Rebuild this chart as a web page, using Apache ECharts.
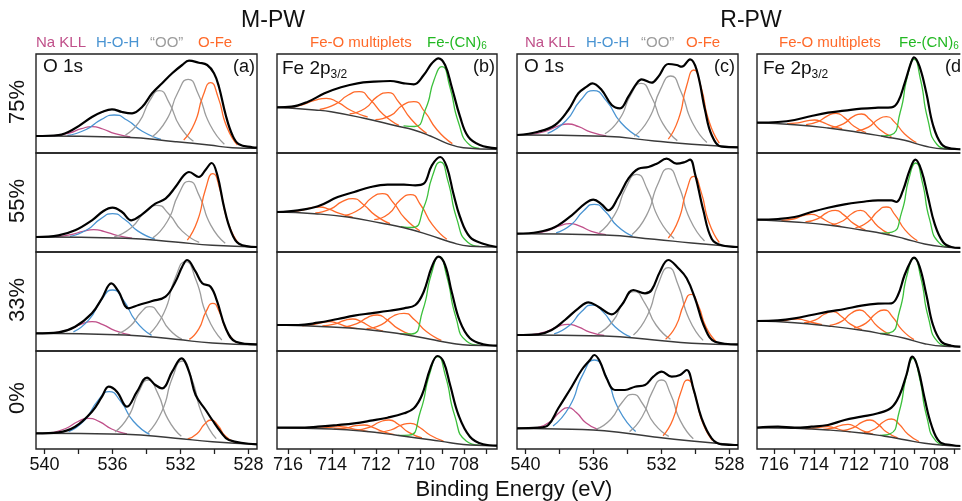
<!DOCTYPE html>
<html>
<head>
<meta charset="utf-8">
<script src="https://cdn.jsdelivr.net/npm/echarts@6/dist/echarts.min.js"></script>
<style>
  html, body { margin: 0; padding: 0; background: #fff; }
  #chart { width: 962px; height: 501px; }
</style>
</head>
<body>
<div id="chart"></div>
<script>
// tick values / labels
const oTicks = [540, 538, 536, 534, 532, 530, 528]
const oLabels = [540, 536, 532, 528]
const feTicks = [716, 715, 714, 713, 712, 711, 710, 709, 708, 707]
const feLabels = [716, 714, 712, 710, 708]
const rowLabels = ['75%', '55%', '33%', '0%']
const panelTags = ['(a)', '(b)', '(c)', '(d)']

// ---- M-PW, O 1s (a) ----
const a75Exp = [[540.5,17],[539.18,18],[538.2,24.7],[537.21,36],[536.62,41],[536.03,43.7],[535.44,41],[534.85,39.7],[534.26,46],[533.67,59.7],[533.08,69.7],[532.49,79.7],[531.9,88],[531.5,92.3],[530.92,90.3],[530.43,88],[530.03,79.7],[529.74,66.3],[529.34,38],[528.95,18],[528.56,8.7],[527.77,5.7],[527.5,5.3]]
const a75Bg = [[540.5,17],[535.25,15.7],[532.3,11.3],[530.33,8],[528.95,5.3],[527.5,4.7]]
const a75Peaks = [
  [[539.45,17.2],[538.55,19.9],[537.83,24.3],[537.2,26.3],[536.57,24.0],[535.85,19.3],[534.95,16.2]],
  [[538.65,17.6],[537.55,23.5],[536.67,33.4],[535.9,38],[535.13,32.7],[534.25,21.8],[533.15,13.6]],
  [[535.24,17.9],[534.44,30.9],[533.8,52.6],[533.24,62.3],[532.68,50.6],[532.04,26.9],[531.24,11.7]],
  [[533.68,16.0],[532.83,32.8],[532.15,60.8],[531.55,73.7],[530.95,58.8],[530.27,28.5],[529.42,8.8]],
  [[531.81,13.0],[531.18,29.5],[530.67,57.4],[530.23,70.3],[529.79,55.9],[529.28,26.3],[528.65,8.0]]
]
const a55Exp = [[540.5,15],[539.18,16.7],[538.2,21.7],[537.21,31.7],[536.53,41],[536.0,44.3],[535.44,40],[534.89,31.7],[534.26,37.7],[533.48,48.3],[532.88,53.3],[532.3,65],[531.8,76.7],[531.5,80],[530.92,75],[530.52,82.3],[530.17,89],[529.83,76.7],[529.44,45],[529.05,21.7],[528.56,8.3],[527.5,5]]
const a55Bg = [[540.5,15],[535.25,13.7],[532.3,10],[530.13,6.7],[527.5,5]]
const a55Peaks = [
  [[539.35,15.2],[538.45,17.3],[537.73,20.7],[537.1,22.3],[536.47,20.4],[535.75,16.7],[534.85,13.8]],
  [[538.5,15.6],[537.5,22.2],[536.7,33.1],[536.0,38.3],[535.3,32.7],[534.5,20.9],[533.5,12.9]],
  [[535.9,15.2],[534.9,24.3],[534.1,39.9],[533.4,46.7],[532.7,38.2],[531.9,20.9],[530.9,9.6]],
  [[533.63,14.1],[532.78,30.5],[532.1,58.1],[531.5,70.7],[530.9,56.4],[530.22,26.9],[529.37,8.7]],
  [[531.6,11.8],[531.0,31.2],[530.52,63.3],[530.1,78.3],[529.68,62.4],[529.2,29.3],[528.6,8.8]]
]
const a33Exp = [[540.5,17.7],[539.18,18.7],[538.2,24.3],[537.21,37.7],[536.62,52.7],[536.07,67.7],[535.64,59.3],[535.05,42.7],[534.46,46],[533.67,50],[532.88,54.3],[532.3,69.3],[531.9,84.3],[531.61,91],[531.11,79.3],[530.72,67.7],[530.23,64.3],[529.84,49.3],[529.34,22.7],[528.75,9.3],[527.5,6.7]]
const a33Bg = [[540.5,17.7],[535.25,16],[532.3,11.7],[530.13,8],[527.5,6.3]]
const a33Peaks = [
  [[539.45,18.0],[538.55,21.3],[537.83,26.8],[537.2,29.3],[536.57,26.4],[535.85,20.4],[534.95,16.2]],
  [[538.3,19.1],[537.38,31.4],[536.64,51.5],[536.0,61],[535.36,50.9],[534.62,29.7],[533.7,15.6]],
  [[535.68,17.3],[534.93,25.2],[534.33,38.5],[533.8,44.3],[533.27,36.9],[532.67,21.7],[531.92,11.8]],
  [[533.83,17.1],[532.98,38.0],[532.3,73.5],[531.7,89.3],[531.1,71.4],[530.42,34.2],[529.57,11.0]],
  [[531.48,11.6],[530.93,21.9],[530.49,39.6],[530.1,47.7],[529.71,38.8],[529.28,20.3],[528.73,8.7]]
]
const a0Exp = [[540.5,15.7],[539.18,16.7],[538.2,22.3],[537.21,37.3],[536.62,52.3],[536.23,62.3],[535.74,57.3],[535.15,42.3],[534.56,57.3],[533.97,71.3],[533.48,64],[533.08,60.7],[532.49,77.3],[531.94,90.7],[531.5,77.3],[531.11,54],[530.52,39],[530.13,29],[529.64,17.3],[529.15,9],[527.5,4.7]]
const a0Bg = [[540.5,15.7],[535.25,14.7],[532.3,10.7],[530.13,7.3],[527.5,4.7]]
const a0Peaks = [
  [[539.65,16.3],[538.75,20.5],[538.03,27.5],[537.4,30.7],[536.77,27.3],[536.05,20.0],[535.15,15.2]],
  [[538.58,17.4],[537.63,29.0],[536.87,48.2],[536.2,57.3],[535.53,47.8],[534.77,27.7],[533.82,14.6]],
  [[535.85,17.1],[535.07,32.3],[534.45,57.4],[533.9,69],[533.35,56.1],[532.73,29.6],[531.95,12.7]],
  [[533.9,16.4],[533.1,37.4],[532.46,72.0],[531.9,88],[531.34,70.2],[530.7,33.6],[529.9,10.4]],
  [[531.58,10.0],[531.03,15.3],[530.59,24.7],[530.2,29],[529.81,23.8],[529.38,13.3],[528.83,6.8]]
]

// ---- M-PW, Fe 2p3/2 (b) ----
const b75Exp = [[716.5,45.7],[715.84,46.3],[715.09,51.3],[714.34,59.7],[713.59,65.7],[712.84,69.7],[712.09,71.3],[711.35,72],[710.73,69.7],[710.28,68.7],[709.83,78],[709.46,89.7],[709.16,94.7],[708.86,88],[708.56,66.3],[708.18,36.3],[707.81,16.3],[707.28,8],[706.5,4.7]]
const b75Bg = [[716.5,45.7],[714.79,43],[714.04,41.3],[712.54,34.7],[711.05,27],[710.28,23],[709.53,17],[708.78,9.7],[708.03,5.3],[706.5,3.7]]
const b75Peaks = [
  [[716.14,45.5],[715.39,48.0],[714.79,52.6],[714.26,54.7],[713.73,50.6],[713.13,42.5],[712.38,36.0]],
  [[714.56,43.6],[713.84,48.8],[713.26,58.0],[712.76,61.3],[712.26,53.2],[711.68,38.8],[710.96,27.6]],
  [[713.2,39.2],[712.5,44.5],[711.96,56.1],[711.45,60.3],[710.96,50.7],[710.4,33.7],[709.7,19.6]],
  [[712.03,33.3],[711.33,37.6],[710.79,47.8],[710.28,51.3],[709.79,41.3],[709.23,23.3],[708.53,9.4]],
  [[710.75,27.2],[710.25,26.5],[709.75,43.7],[709.35,73.8],[709.0,86.3],[708.65,66.8],[708.25,30.5],[707.75,8.2],[707.3,4.7]]
]
const b55Exp = [[716.5,40],[715.54,41.7],[714.64,45.7],[713.74,55],[712.99,60],[712.24,65],[711.48,67.3],[710.73,67.3],[710.21,66.7],[709.83,68.3],[709.46,86.7],[709.08,95],[708.78,85],[708.48,58.3],[708.18,35],[707.73,15],[707.13,8.3],[706.5,5]]
const b55Bg = [[716.5,40],[714.79,38.3],[713.29,35],[711.79,29],[710.73,24.3],[709.53,16.7],[708.63,10],[707.73,5.7],[706.5,5]]
const b55Peaks = [
  [[716.06,39.9],[715.46,41.3],[714.98,44.0],[714.56,45],[714.14,42.8],[713.66,38.6],[713.06,34.8]],
  [[714.76,39.0],[714.08,42.9],[713.54,50.3],[713.06,53.3],[712.58,47.6],[712.04,36.9],[711.36,28.3]],
  [[713.41,36.6],[712.73,43.0],[712.19,54.3],[711.71,58.3],[711.23,49.8],[710.69,33.7],[710.01,21.3]],
  [[712.08,32.3],[711.42,38.3],[710.89,52.2],[710.43,57.3],[709.97,47.0],[709.44,27.4],[708.78,12.7]],
  [[710.88,25.4],[710.35,24.5],[709.83,44.4],[709.43,76.2],[709.08,90],[708.73,70.9],[708.33,33.4],[707.83,9.7],[707.3,5.6]]
]
const b33Exp = [[716.5,26],[715.54,26],[714.64,28.3],[713.74,32],[712.99,35.3],[712.24,37.7],[711.48,40],[710.73,42.7],[710.21,46],[709.83,59.3],[709.46,84.3],[709.16,94.3],[708.86,86],[708.56,59.3],[708.18,29.3],[707.73,12.7],[707.13,6.7],[706.5,5.3]]
const b33Bg = [[716.5,26],[714.04,24],[712.54,21.7],[711.05,17.7],[709.53,11.7],[708.63,8],[707.73,5.7],[706.5,5.3]]
const b33Peaks = [
  [[715.35,25.2],[714.85,26.3],[714.45,28.5],[714.1,29.3],[713.75,27.7],[713.35,24.7],[712.85,22.4]],
  [[714.44,25.2],[713.89,26.8],[713.45,30.5],[713.06,32],[712.67,29.3],[712.23,24.0],[711.68,19.8]],
  [[713.49,23.7],[712.87,27.3],[712.37,33.7],[711.94,36],[711.51,31.4],[711.01,22.6],[710.39,16.2]],
  [[712.43,22.4],[711.75,26.4],[711.21,35.0],[710.73,37.7],[710.25,31.3],[709.71,19.5],[709.03,10.7]],
  [[710.9,17.2],[710.38,17],[709.88,40.2],[709.48,77.2],[709.13,94.3],[708.78,74.5],[708.38,34.6],[707.88,9.7],[707.3,5.7]]
]
const b0Exp = [[716.5,21.3],[715.54,21.3],[714.64,22.3],[713.74,24],[712.99,25.7],[712.24,28.3],[711.48,31.3],[710.73,35.7],[710.28,40.7],[709.91,54],[709.53,80.7],[709.2,93],[708.93,87.3],[708.63,64],[708.25,34],[707.73,12.3],[707.13,4.7],[706.5,3.3]]
const b0Bg = [[716.5,21.3],[714.04,20],[712.54,17.7],[711.05,13.7],[709.53,9.3],[708.63,6.3],[707.73,4],[706.5,3.3]]
const b0Peaks = [
  [[714.85,20.8],[714.35,21.1],[713.95,22.0],[713.6,22.3],[713.25,21.2],[712.85,19.3],[712.35,17.4]],
  [[713.92,20.1],[713.37,21.0],[712.93,23.3],[712.54,24],[712.15,21.7],[711.71,17.6],[711.16,14.3]],
  [[712.91,18.9],[712.31,21.6],[711.83,27.0],[711.41,29],[710.99,24.7],[710.51,16.6],[709.91,11.0]],
  [[711.93,16.6],[711.33,19.0],[710.85,23.8],[710.43,25.7],[710.01,21.5],[709.53,13.8],[708.93,7.9]],
  [[711.0,13.6],[710.5,13.8],[709.98,37.7],[709.56,75.3],[709.2,92.3],[708.84,72.9],[708.42,33.1],[707.9,8.0],[707.3,3.9]]
]

// ---- R-PW, O 1s (c) ----
const c75Exp = [[540.5,18],[539.25,21.3],[538.26,28],[537.48,43],[536.89,59.7],[536.4,66.3],[536.07,69.7],[535.52,63],[534.93,48],[534.44,44.7],[533.95,56.3],[533.46,69.7],[533.17,73.7],[532.58,70.3],[532.19,76.3],[531.6,89],[531.11,88],[530.81,86.3],[530.32,93.7],[529.93,83],[529.44,43],[529.05,18],[528.46,6.3],[527.5,5.7]]
const c75Bg = [[540.5,18],[535.36,16.7],[532.42,12],[530.23,8.7],[527.5,5.7]]
const c75Peaks = [
  [[539.75,18.4],[538.85,21.5],[538.13,26.6],[537.5,29],[536.87,26.3],[536.15,20.8],[535.25,17.1]],
  [[538.7,19.7],[537.62,32.2],[536.76,52.7],[536.0,62.3],[535.24,52.1],[534.38,30.3],[533.3,15.8]],
  [[535.33,19.2],[534.48,33.6],[533.8,58.4],[533.2,69.7],[532.6,56.5],[531.92,29.4],[531.07,12.4]],
  [[533.6,16.8],[532.74,34.2],[532.06,63.6],[531.46,77],[530.86,61.6],[530.18,30.3],[529.33,10.5]],
  [[531.6,13.8],[531.0,33.9],[530.52,67.3],[530.1,83],[529.68,66.3],[529.2,31.5],[528.6,9.8]]
]
const c55Exp = [[540.5,18.3],[539.25,20],[538.26,25],[537.28,36.7],[536.5,48.3],[536.01,52.3],[535.52,47.7],[535.13,41.7],[534.54,55],[533.95,73.3],[533.36,83.3],[532.77,85],[532.28,88.3],[531.7,93.3],[531.11,88.3],[530.62,90],[530.32,92.3],[530.03,78.3],[529.54,41.7],[529.05,13.3],[528.46,6.7],[527.5,5]]
const c55Bg = [[540.5,18.3],[535.36,17],[532.42,12.7],[530.23,9],[527.5,5]]
const c55Peaks = [
  [[539.53,18.7],[538.68,21.4],[538.0,26.1],[537.4,28.3],[536.8,25.8],[536.12,20.7],[535.27,17.4]],
  [[538.2,19.2],[537.3,27.6],[536.58,41.3],[535.95,47.7],[535.32,40.8],[534.6,25.9],[533.7,15.8]],
  [[535.66,19.4],[534.78,36.6],[534.08,64.9],[533.46,77.7],[532.84,62.9],[532.14,32.8],[531.26,13.6]],
  [[533.73,17.5],[532.88,36.6],[532.2,68.6],[531.6,83.3],[531.0,66.8],[530.32,32.5],[529.47,11.0]],
  [[531.6,14.0],[531.0,32.0],[530.52,61.8],[530.1,75.7],[529.68,60.6],[529.2,29.2],[528.6,9.5]]
]
const c33Exp = [[540.5,16],[539.25,16.7],[538.46,21],[537.68,31],[536.89,42.7],[536.3,48.7],[535.72,44.3],[534.93,36.7],[534.34,46],[533.66,61],[532.97,57.7],[532.58,61],[532.09,79.3],[531.6,91],[531.01,82.7],[530.52,72.7],[530.03,52.7],[529.44,22.7],[528.85,9.3],[527.5,6.7]]
const c33Bg = [[540.5,16],[535.36,15],[532.42,11],[530.23,7.7],[527.5,6.3]]
const c33Peaks = [
  [[539.63,16.4],[538.78,19.4],[538.1,24.4],[537.5,26.7],[536.9,24.2],[536.22,18.9],[535.37,15.5]],
  [[538.32,17.2],[537.42,25.6],[536.7,39.5],[536.07,46],[535.44,39.1],[534.72,24.1],[533.82,14.2]],
  [[535.73,17.4],[534.88,29.5],[534.2,50.0],[533.6,59.3],[533.0,48.4],[532.32,26.0],[531.47,11.7]],
  [[533.65,15.9],[532.83,35.5],[532.17,68.1],[531.6,83.3],[531.03,66.5],[530.37,31.8],[529.55,10.6]],
  [[531.76,11.8],[531.16,24.7],[530.68,46.6],[530.26,56.7],[529.84,45.8],[529.36,23.1],[528.76,9.1]]
]
const c0Exp = [[540.5,20.7],[539.25,21.3],[538.66,24],[538.07,40.7],[537.28,62.3],[536.7,79],[536.21,89],[535.95,94],[535.62,87.3],[535.23,70.7],[534.74,59],[534.15,59],[533.56,62.3],[532.97,64],[532.48,72.3],[531.99,77.3],[531.4,72.3],[530.91,74],[530.52,79],[530.13,60.7],[529.64,30.7],[529.05,10.7],[528.46,4.7],[527.5,4]]
const c0Bg = [[540.5,20.7],[537.28,19.7],[535.36,18.3],[532.42,12],[530.23,8],[527.5,4]]
const c0Peaks = [
  [[539.25,21.5],[538.55,27.2],[537.99,36.8],[537.5,41.3],[537.01,36.4],[536.45,26.3],[535.75,19.6]],
  [[538.38,23.0],[537.41,42.5],[536.63,74.4],[535.95,89],[535.27,73.1],[534.5,39.3],[533.52,17.5]],
  [[535.83,19.9],[534.98,29.8],[534.3,47.0],[533.7,54.7],[533.1,45.0],[532.42,25.1],[531.57,12.7]],
  [[533.88,17.4],[533.13,32.5],[532.53,57.6],[532.0,69],[531.48,55.5],[530.88,27.9],[530.13,10.3]],
  [[531.91,13.3],[531.33,29.5],[530.87,56.4],[530.46,69],[530.05,55.2],[529.59,26.7],[529.01,8.7]]
]

// ---- R-PW, Fe 2p3/2 (d) ----
const d75Exp = [[716.85,30.3],[715.8,31],[714.97,33],[714.13,37],[713.3,40.3],[712.47,42.3],[711.63,44.3],[710.8,45.3],[710.13,45.7],[709.8,51.3],[709.47,69.7],[709.13,91.3],[709.0,95.7],[708.72,86.3],[708.38,59.7],[708.05,28],[707.63,9],[707.13,4.3],[706.62,3.7],[705.85,3.5]]
const d75Bg = [[716.85,30.3],[714.97,28.3],[713.3,25],[711.63,20.3],[710.47,16.3],[709.47,12.7],[708.47,7],[707.47,4],[706.62,3.7],[705.85,3.5]]
const d75Peaks = [
  [[715.35,29.3],[714.8,30.1],[714.36,32.1],[713.97,33],[713.58,30.8],[713.14,27.2],[712.59,24.3]],
  [[714.4,28.3],[713.8,31.3],[713.32,37.2],[712.9,39.7],[712.48,35.4],[712.0,26.7],[711.4,20.5]],
  [[713.13,25.4],[712.53,29.2],[712.05,36.4],[711.63,39],[711.21,33.7],[710.73,23.8],[710.13,16.3]],
  [[711.88,22.1],[711.28,25.9],[710.8,33.5],[710.38,36.3],[709.96,30.6],[709.48,19.3],[708.88,10.5]],
  [[710.65,17.0],[710.15,18.2],[709.69,40.7],[709.32,77.5],[709.0,93.7],[708.68,74.0],[708.31,33.7],[707.85,8.5],[707.35,4.2]]
]
const d55Exp = [[716.85,32.3],[715.8,33],[714.97,35],[714.13,40],[713.3,44.3],[712.47,47.7],[711.63,50],[710.8,51.7],[710.13,51.7],[709.88,50],[709.55,61.7],[709.22,81.7],[708.93,92.3],[708.63,81.7],[708.3,55],[707.97,28.3],[707.55,10],[707.13,5],[706.62,4],[705.85,3.8]]
const d55Bg = [[716.85,32.3],[714.97,30],[713.3,27],[711.63,22],[710.47,18],[709.47,13.3],[708.47,8],[707.47,5],[706.62,4],[705.85,3.8]]
const d55Peaks = [
  [[715.63,31.6],[715.03,33.0],[714.55,36.4],[714.13,37.7],[713.71,34.8],[713.23,29.5],[712.63,25.4]],
  [[714.43,30.0],[713.83,33.1],[713.35,39.4],[712.93,41.7],[712.51,37.1],[712.03,28.6],[711.43,22.0]],
  [[713.12,27.4],[712.54,31.3],[712.08,38.8],[711.67,41.7],[711.26,36.0],[710.8,25.6],[710.22,18.1]],
  [[711.93,24.2],[711.31,29.9],[710.81,40.8],[710.38,45],[709.95,37.1],[709.45,22.1],[708.83,11.2]],
  [[710.62,18.8],[710.1,19.9],[709.62,39.6],[709.25,73.6],[708.92,89],[708.59,70.4],[708.22,32.6],[707.74,9.1],[707.22,5.0]]
]
const d33Exp = [[716.85,30],[715.8,30.7],[714.97,32.7],[714.13,36],[713.3,39.3],[712.47,42],[711.63,45.3],[710.8,47.3],[710.13,47.7],[709.8,56],[709.47,76],[709.13,91],[709.0,93.3],[708.72,84.3],[708.38,56],[708.05,26],[707.63,9.3],[707.13,5.3],[706.62,4.3],[705.85,4]]
const d33Bg = [[716.85,30],[714.97,28.3],[713.3,25],[711.63,20.7],[710.47,16.7],[709.47,12.7],[708.47,7.3],[707.47,4.7],[706.62,4.3],[705.85,4]]
const d33Peaks = [
  [[716.0,29.6],[715.52,30.2],[715.14,31.6],[714.8,32],[714.46,30.7],[714.08,28.5],[713.6,26.3]],
  [[714.5,28.2],[713.92,31.2],[713.46,37.0],[713.05,39.3],[712.64,34.8],[712.18,26.9],[711.6,21.3]],
  [[713.22,25.7],[712.62,29.6],[712.14,37.7],[711.72,41],[711.3,35.4],[710.82,24.5],[710.22,16.9]],
  [[712.0,23.1],[711.4,27.9],[710.92,37.3],[710.5,41],[710.08,34.3],[709.6,21.1],[709.0,11.4]],
  [[710.7,17.5],[710.2,18.4],[709.72,40.3],[709.34,76.5],[709.0,92.7],[708.66,73.3],[708.28,33.3],[707.8,8.9],[707.3,4.9]]
]
const d0Exp = [[716.85,21.3],[715.8,22.3],[714.97,21.3],[714.13,22.3],[713.3,24],[712.47,29],[711.63,32.3],[710.8,35.7],[710.13,41.3],[709.72,54],[709.38,74],[709.08,92.3],[708.8,80.7],[708.47,50.7],[708.13,24],[707.72,7.3],[707.13,4],[706.62,3],[705.85,2.8]]
const d0Bg = [[716.85,21.3],[714.97,20.7],[713.3,19],[711.63,16],[710.47,12.7],[709.47,9.3],[708.47,5.7],[707.47,3.7],[706.62,3],[705.85,2.8]]
const d0Peaks = [
  [[714.43,20.4],[713.98,20.9],[713.62,22.0],[713.3,22.3],[712.98,21.1],[712.62,18.9],[712.17,17.1]],
  [[713.55,19.6],[713.05,21.0],[712.65,23.7],[712.3,24.7],[711.95,22.4],[711.55,18.2],[711.05,14.9]],
  [[712.58,18.4],[712.03,21.4],[711.59,26.9],[711.2,29],[710.81,24.9],[710.37,17.0],[709.82,11.1]],
  [[711.51,16.4],[710.96,20.0],[710.52,27.3],[710.13,30],[709.74,24.7],[709.3,14.7],[708.75,7.5]],
  [[710.7,13.7],[710.2,15.2],[709.74,37.3],[709.37,73.7],[709.05,90.7],[708.73,71.6],[708.36,32.2],[707.9,7.9],[707.4,3.9]]
]

const FONT = '"Liberation Sans", Arial, Helvetica, sans-serif'
const C_NA = '#c0508a'
const C_HOH = '#4a94d2'
const C_OO = '#9c9c9c'
const C_OFE = '#ff6a2a'
const C_CN = '#3cc03c'
const oColors = [C_NA, C_HOH, C_OO, C_OO, C_OFE]
const feColors = [C_OFE, C_OFE, C_OFE, C_OFE, C_CN]

// layout (panel d runs past the right edge of the picture, so it is cut at 962)
const colLeft = [36, 277, 517, 757]
const colWidth = [221, 220, 221, 205]
const rowTop = [54, 153, 252, 351]
const rowHeight = [99, 99, 99, 98]
const colMin = [527.5, 706.5, 527.5, 706.6]
const colMax = [540.5, 716.5, 540.5, 716.85]
const colTicks = [oTicks, feTicks, oTicks, feTicks]
const colLabels = [oLabels, feLabels, oLabels, feLabels]

const panels = [
  [[a75Exp, a75Bg, a75Peaks], [b75Exp, b75Bg, b75Peaks], [c75Exp, c75Bg, c75Peaks], [d75Exp, d75Bg, d75Peaks]],
  [[a55Exp, a55Bg, a55Peaks], [b55Exp, b55Bg, b55Peaks], [c55Exp, c55Bg, c55Peaks], [d55Exp, d55Bg, d55Peaks]],
  [[a33Exp, a33Bg, a33Peaks], [b33Exp, b33Bg, b33Peaks], [c33Exp, c33Bg, c33Peaks], [d33Exp, d33Bg, d33Peaks]],
  [[a0Exp, a0Bg, a0Peaks], [b0Exp, b0Bg, b0Peaks], [c0Exp, c0Bg, c0Peaks], [d0Exp, d0Bg, d0Peaks]],
]

const grids = []
const xAxes = []
const yAxes = []
const series = []

function line(idx, data, color, width, z, smooth) {
  return {
    type: 'line',
    xAxisIndex: idx,
    yAxisIndex: idx,
    data: data,
    symbol: 'none',
    smooth: smooth,
    lineStyle: { color: color, width: width },
    z: z,
    silent: true,
  }
}

for (let r = 0; r < 4; r++) {
  for (let c = 0; c < 4; c++) {
    const idx = r * 4 + c
    const bottom = r === 3
    grids.push({
      left: colLeft[c], top: rowTop[r], width: colWidth[c], height: rowHeight[r],
      show: true, borderColor: '#222', borderWidth: 1.4, backgroundColor: 'transparent',
    })
    xAxes.push({
      type: 'value', gridIndex: idx, min: colMin[c], max: colMax[c], inverse: true,
      axisLine: { show: false },
      splitLine: { show: false },
      axisTick: {
        show: bottom, customValues: colTicks[c], length: 5,
        lineStyle: { color: '#222', width: 1.3 },
      },
      axisLabel: {
        show: bottom, customValues: colLabels[c], fontSize: 18, color: '#111',
        fontFamily: FONT, margin: 7,
      },
    })
    yAxes.push({ type: 'value', gridIndex: idx, min: 0, max: rowHeight[r], show: false })

    const [exp, bg, peaks] = panels[r][c]
    const colors = (c % 2 === 0) ? oColors : feColors
    peaks.forEach((p, k) => series.push(line(idx, p, colors[k], 1.3, 2, 0.6)))
    series.push(line(idx, bg, '#3a3a3a', 1.4, 3, 0.5))
    series.push(line(idx, exp, '#000', 2.2, 4, 0.4))
  }
}

function txt(x, y, text, size, color, align, extra) {
  return Object.assign({
    type: 'text', x: x, y: y, silent: true,
    style: {
      text: text, fontSize: size, fontFamily: FONT, fill: color,
      textAlign: align || 'left', textVerticalAlign: 'middle',
    },
  }, extra || {})
}

function richTxt(x, y, main, sub, size, subSize, color, pad) {
  return {
    type: 'text', x: x, y: y, silent: true,
    style: {
      text: '{n|' + main + '}{s|' + sub + '}',
      fill: color, textAlign: 'left', textVerticalAlign: 'middle',
      rich: {
        n: { fontSize: size, fontFamily: FONT, fill: color },
        s: { fontSize: subSize, fontFamily: FONT, fill: color, padding: [pad, 0, 0, 0] },
      },
    },
  }
}

const graphics = [
  txt(273, 21, 'M-PW', 23, '#111', 'center'),
  txt(751, 21, 'R-PW', 23, '#111', 'center'),
  txt(36, 43, 'Na KLL', 15, C_NA),
  txt(96, 43, 'H-O-H', 15, C_HOH),
  txt(150, 43, '\u201cOO\u201d', 15, C_OO),
  txt(198, 43, 'O-Fe', 15, C_OFE),
  txt(310, 43, 'Fe-O multiplets', 15, C_OFE),
  richTxt(427, 43, 'Fe-(CN)', '6', 15, 10, '#22b822', 7),
  txt(525, 43, 'Na KLL', 15, C_NA),
  txt(586, 43, 'H-O-H', 15, C_HOH),
  txt(641, 43, '\u201cOO\u201d', 15, C_OO),
  txt(686, 43, 'O-Fe', 15, C_OFE),
  txt(779, 43, 'Fe-O multiplets', 15, C_OFE),
  richTxt(899, 43, 'Fe-(CN)', '6', 15, 10, '#22b822', 7),
  txt(43, 67, 'O 1s', 19, '#111'),
  richTxt(282, 69, 'Fe 2p', '3/2', 19, 12, '#111', 11),
  txt(524, 67, 'O 1s', 19, '#111'),
  richTxt(763, 69, 'Fe 2p', '3/2', 19, 12, '#111', 11),
  txt(255, 67, panelTags[0], 18, '#111', 'right'),
  txt(495, 67, panelTags[1], 18, '#111', 'right'),
  txt(735, 67, panelTags[2], 18, '#111', 'right'),
  txt(967, 67, panelTags[3], 18, '#111', 'right'),
  txt(514, 490, 'Binding Energy (eV)', 22, '#111', 'center'),
  // hide the right frame edge of panel d, which lies outside the original picture
  { type: 'rect', silent: true, z: 100, shape: { x: 960.4, y: 50, width: 3, height: 402 }, style: { fill: '#fff' } },
]
const rowCenters = [102, 201, 300, 398]
rowLabels.forEach((t, i) => {
  graphics.push(txt(18, rowCenters[i], t, 22, '#111', 'center', { rotation: Math.PI / 2 }))
})

const chart = echarts.init(document.getElementById('chart'), null, { renderer: 'canvas' })
chart.setOption({
  animation: false,
  backgroundColor: '#fff',
  grid: grids,
  xAxis: xAxes,
  yAxis: yAxes,
  series: series,
  graphic: graphics,
})
</script>
</body>
</html>
